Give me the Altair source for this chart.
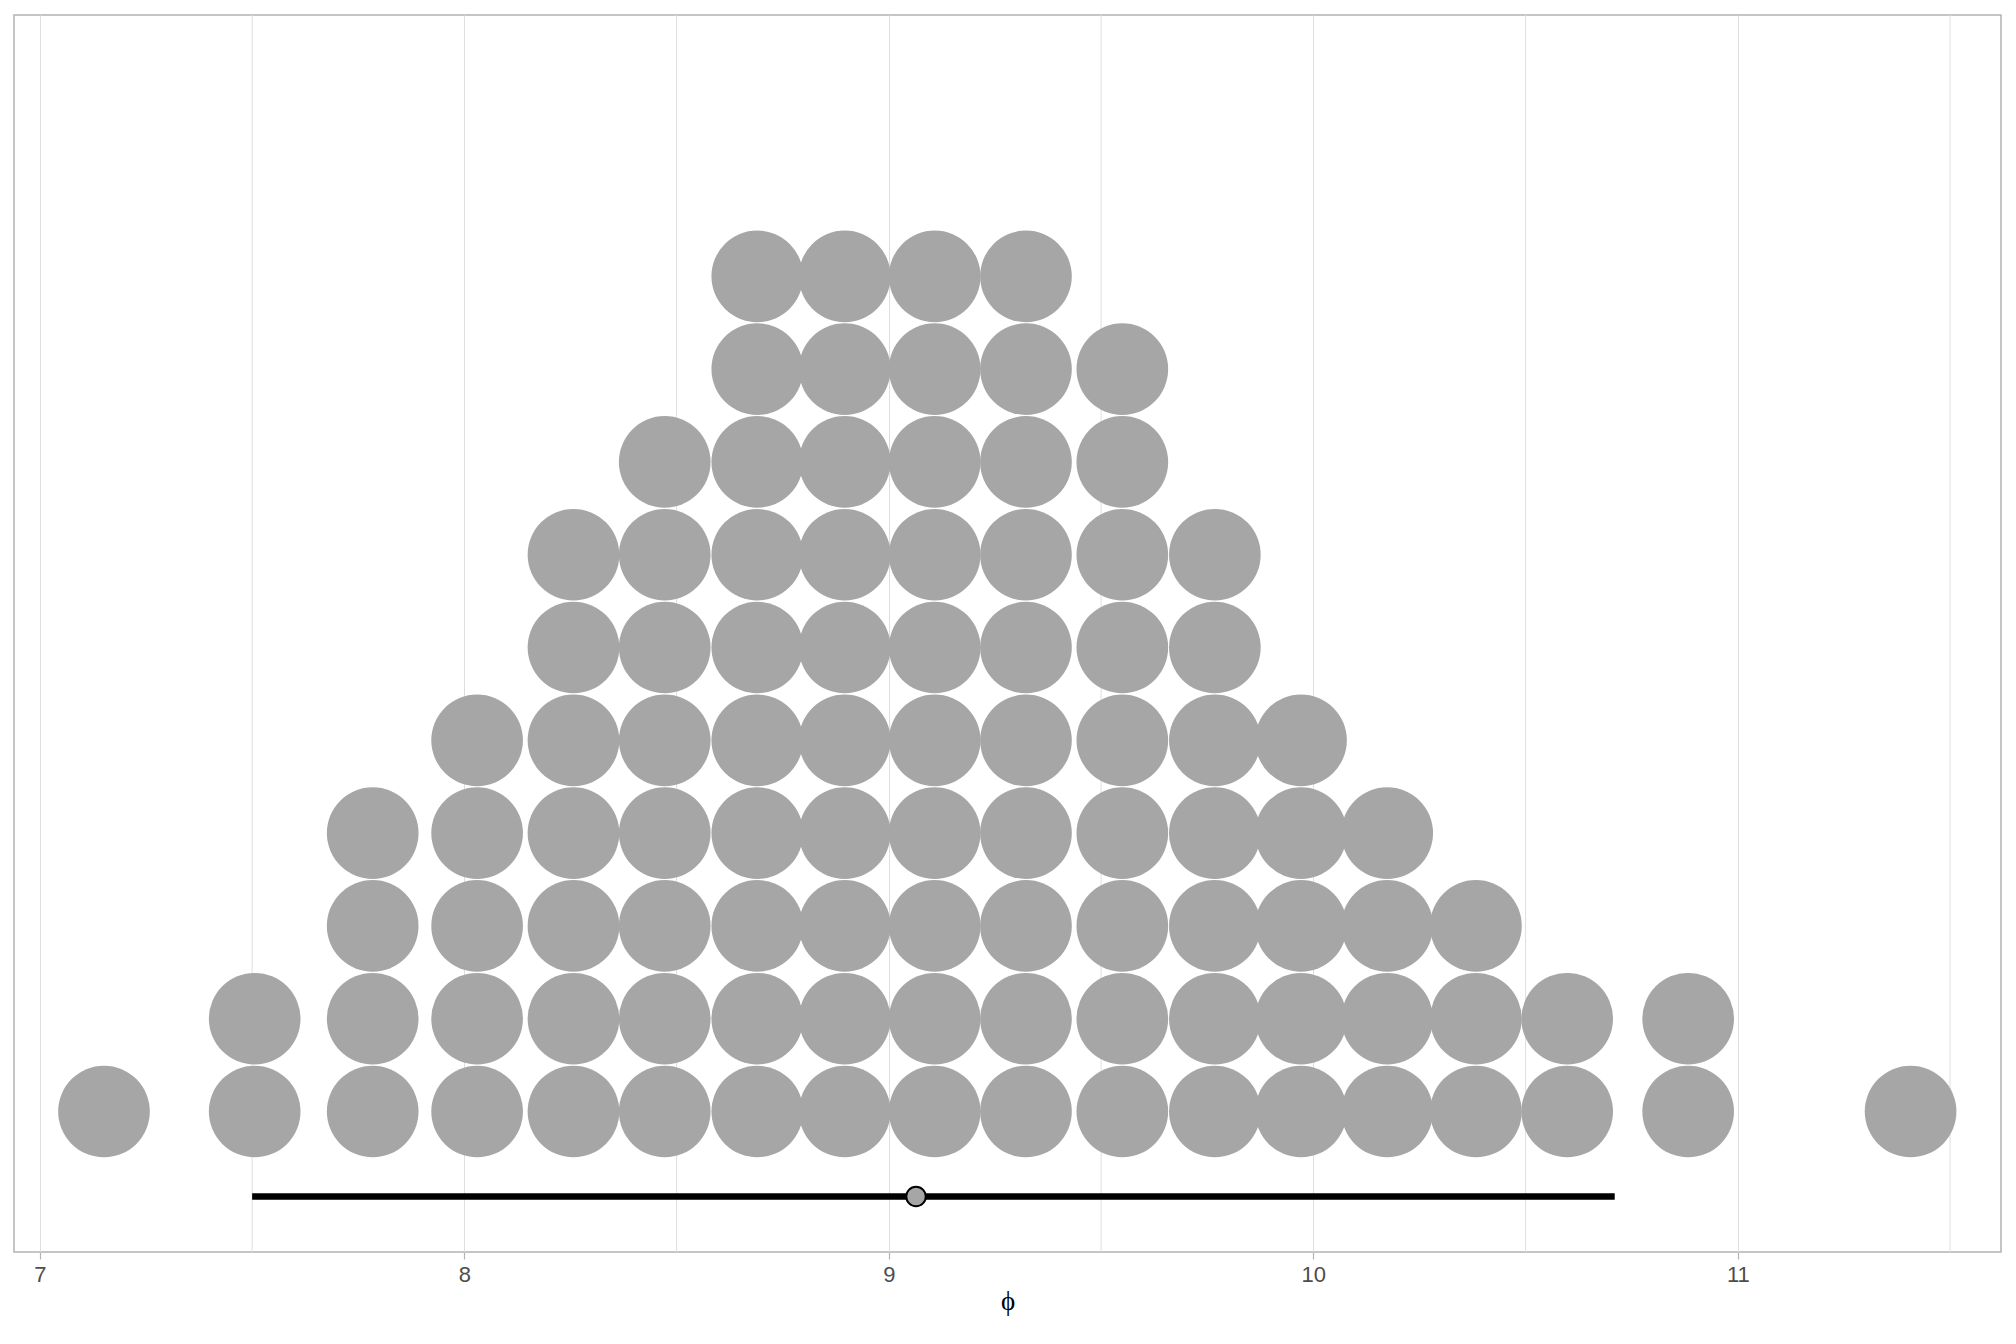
import altair as alt
import pandas as pd

# Dot-plot columns (bin centres of phi) and number of stacked dots
bin_centres = [7.151, 7.506, 7.784, 8.030, 8.257, 8.472, 8.690, 8.896, 9.108,
               9.323, 9.550, 9.768, 9.971, 10.174, 10.383, 10.598, 10.883, 11.407]
dot_counts = [1, 2, 4, 5, 7, 8, 10, 10, 10, 10, 9, 7, 5, 4, 3, 2, 2, 1]

# Interval summary (point estimate and interval ends)
interval_lo = [7.50]
interval_hi = [10.71]
point_est = [9.064]

major_breaks = [7, 8, 9, 10, 11]
minor_breaks = [7.5, 8.5, 9.5, 10.5, 11.5]

rows = []
for c, n in zip(bin_centres, dot_counts):
    for k in range(1, n + 1):
        rows.append({"phi": c, "stack": k})
dots_df = pd.DataFrame(rows)

interval_df = pd.DataFrame({"lo": interval_lo, "hi": interval_hi, "pt": point_est})
minor_df = pd.DataFrame({"x": minor_breaks})

W, H = 1987, 1237
xscale = alt.Scale(domain=[6.939, 11.62], nice=False, zero=False)
yscale = alt.Scale(domain=[-0.514, 12.816], nice=False, zero=False)
GRID = "#DEDEDE"

minor = alt.Chart(minor_df).mark_rule(color=GRID, strokeWidth=1).encode(
    x=alt.X("x:Q", scale=xscale)
)

dots = alt.Chart(dots_df).mark_point(
    shape="circle", filled=True, color="#A6A6A6", opacity=1, size=8400, strokeWidth=0
).encode(
    x=alt.X("phi:Q", scale=xscale,
            axis=alt.Axis(values=major_breaks, title="ϕ", format="d",
                          grid=True, gridColor=GRID, gridWidth=1,
                          domain=False, tickColor="#B3B3B3", tickSize=7, tickWidth=1.2,
                          labelColor="#4D4D4D", labelFontSize=22, labelFont="Liberation Sans",
                          labelPadding=5, titleFont="Liberation Serif", titleFontSize=27,
                          titleFontWeight="normal", titleColor="black", titlePadding=3)),
    y=alt.Y("stack:Q", scale=yscale, axis=None),
)

rule = alt.Chart(interval_df).mark_rule(color="black", strokeWidth=6.5).encode(
    x=alt.X("lo:Q", scale=xscale),
    x2="hi:Q",
    y=alt.YDatum(0.084),
)

pt = alt.Chart(interval_df).mark_point(
    shape="circle", filled=True, fill="#A6A6A6", stroke="black", strokeWidth=2,
    opacity=1, size=380
).encode(
    x=alt.X("pt:Q", scale=xscale),
    y=alt.YDatum(0.084),
)

chart = alt.layer(minor, dots, rule, pt).properties(
    width=W, height=H,
    padding={"left": 6, "top": 6, "right": 5, "bottom": 5},
).configure_view(
    stroke="#B3B3B3", strokeWidth=1.5
).resolve_scale(x="shared", y="shared")

chart.save("out.html", embed_options={"renderer": "svg", "actions": False})
